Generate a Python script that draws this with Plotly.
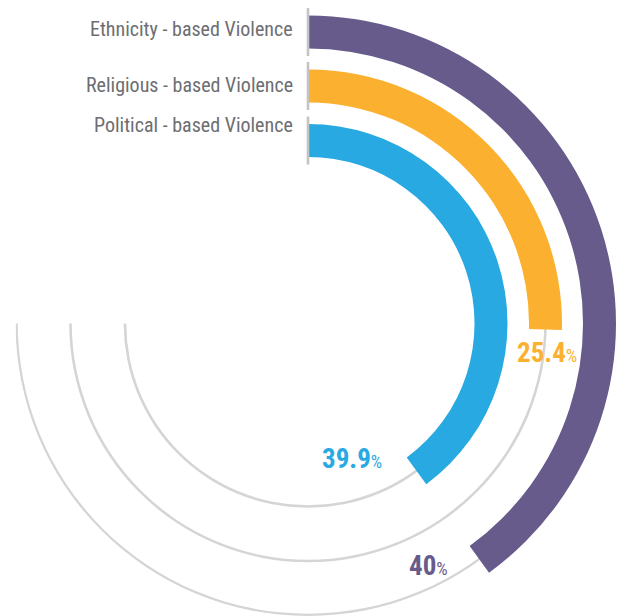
import plotly.graph_objects as go

# ---- data ----
categories = ["Ethnicity - based Violence", "Religious - based Violence", "Political - based Violence"]
values = [40, 25.4, 39.9]
value_labels = ["40", "25.4", "39.9"]
colors = ["#675b8b", "#fbb12f", "#29a9e1"]

# ---- layout constants (radial units == pixels) ----
W, H = 619, 616
CX, CY = 308, 323.5          # centre of the rings in pixels (from top-left)
DEG_PER_PCT = 3.6            # 100 % = full circle
TRACK_SPAN = 270
ring_centres = [291.5, 237.5, 183]
BAR_T = 33
TRACK_W = 2.6
TICK_PAD = 7.5
FONT = "Roboto Condensed, Liberation Sans Narrow, DejaVu Sans Condensed, Roboto, sans-serif"
TEXT_GREY = "#6d6e71"

R1 = 292.5   # tracks subplot (full circle)
R2 = 311     # bars subplot (sector -60..90)
R3 = 317     # start ticks subplot (sector 80..100)
S2 = 0.8660254


def dom(x0, x1, ytop, ybot):
    return dict(x=[x0 / W, x1 / W], y=[(H - ybot) / H, (H - ytop) / H])


fig = go.Figure()

# background tracks
for rc in ring_centres:
    fig.add_trace(go.Barpolar(
        r=[TRACK_W], base=[rc - TRACK_W / 2], theta=[TRACK_SPAN / 2], width=[TRACK_SPAN],
        marker=dict(color="#d5d5d5", line=dict(width=0)), hoverinfo="skip", showlegend=False,
        subplot="polar"))

# value bars
for cat, v, col, rc in zip(categories, values, colors, ring_centres):
    span = v * DEG_PER_PCT
    fig.add_trace(go.Barpolar(
        r=[BAR_T], base=[rc - BAR_T / 2], theta=[span / 2], width=[span],
        marker=dict(color=col, line=dict(width=0)), name=cat, showlegend=False,
        subplot="polar2"))

# start ticks
for rc in ring_centres:
    fig.add_trace(go.Scatterpolar(
        r=[rc - BAR_T / 2 - TICK_PAD, rc + BAR_T / 2 + TICK_PAD], theta=[0, 0], mode="lines",
        line=dict(color="#c4c4c4", width=2.6), hoverinfo="skip", showlegend=False,
        subplot="polar3"))

common = dict(bgcolor="rgba(0,0,0,0)",
              angularaxis=dict(visible=False, direction="clockwise", rotation=90),
              bargap=0)

fig.update_layout(
    width=W, height=H,
    margin=dict(l=0, r=0, t=0, b=0),
    paper_bgcolor="white", plot_bgcolor="white",
    polar=dict(domain=dom(CX - R1, CX + R1, CY - R1, CY + R1),
               radialaxis=dict(range=[0, R1], visible=False), **common),
    polar2=dict(domain=dom(CX, CX + R2, CY - R2, CY + S2 * R2), sector=[-60, 90],
                radialaxis=dict(range=[0, R2], visible=False), **common),
    polar3=dict(domain=dom(CX - 0.17364818 * R3, CX + 0.17364818 * R3, CY - R3, CY), sector=[80, 100],
                radialaxis=dict(range=[0, R3], visible=False), **common),
)

COND = "font-stretch:condensed"

# category labels
label_y = [29.5, 85, 125]
for cat, ly in zip(categories, label_y):
    fig.add_annotation(x=295 / W, y=1 - ly / H, xref="paper", yref="paper",
                       xanchor="right", yanchor="middle", showarrow=False,
                       text=f"<span style='{COND}'>{cat}</span>",
                       font=dict(family=FONT, size=20, color=TEXT_GREY))

# value labels
val_pos = [(428, 566), (546.5, 353), (352, 459)]
for lab, col, (px, py) in zip(value_labels, colors, val_pos):
    fig.add_annotation(x=px / W, y=1 - py / H, xref="paper", yref="paper",
                       xanchor="center", yanchor="middle", showarrow=False,
                       text=f"<span style='{COND}'><b>{lab}</b></span><span style='{COND};font-size:18px'>%</span>",
                       font=dict(family=FONT, size=27, color=col))

fig.write_html("out.html")
